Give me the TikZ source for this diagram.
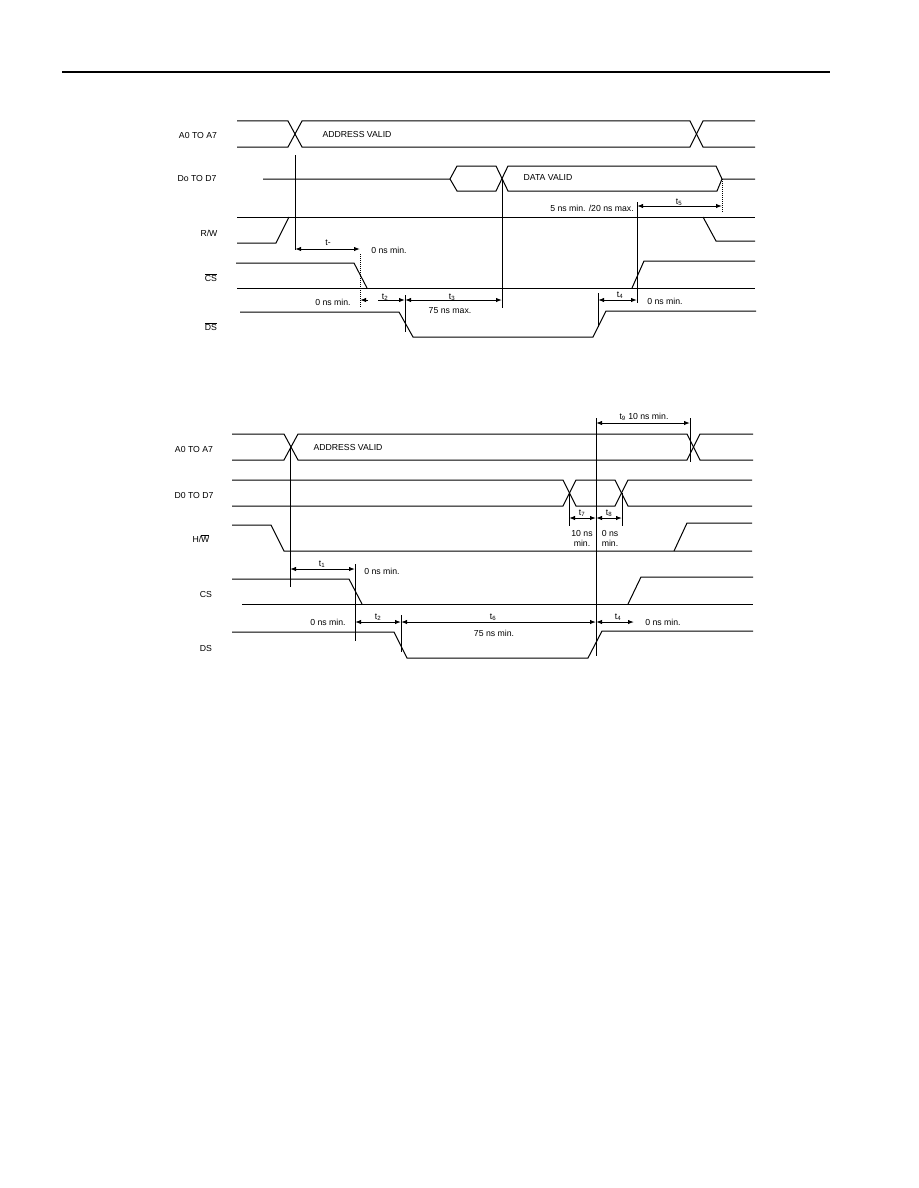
\documentclass[tikz,border=0pt]{standalone}
\usepackage{fontspec}
\setmainfont{Liberation Sans}
\usetikzlibrary{arrows.meta}
\tikzset{
  sig/.style={line width=1pt,line join=miter},
  vline/.style={line width=1pt},
  dim/.style={line width=1pt,{Latex[length=6pt,width=4.4pt]}-{Latex[length=6pt,width=4.4pt]}},
  dimr/.style={line width=1pt,-{Latex[length=6pt,width=4.4pt]}},
  lab/.style={font=\fontsize{8.7}{10}\selectfont,inner sep=0pt},
  small/.style={font=\fontsize{8.7}{9.4}\selectfont,inner sep=0pt,align=center}
}
\newcommand{\ovl}[1]{$\overline{\mbox{#1}}$}
\begin{document}
\begin{tikzpicture}[x=1pt,y=-1pt]
\useasboundingbox (0,0) rectangle (918,1188);
\fill[white] (0,0) rectangle (918,1188);
\draw[line width=2pt] (62,72) -- (830,72);

% ---------- upper diagram: signals
\draw[sig] (237,121) -- (288,121) -- (302,147) -- (690,147) -- (703,121) -- (755,121);
\draw[sig] (237,147) -- (288,147) -- (302,121) -- (690,121) -- (703,147) -- (755,147);
\draw[sig] (263,179) -- (450,179) -- (457,166) -- (496,166) -- (508,191) -- (717,191) -- (722,179) -- (755,179);
\draw[sig] (450,179) -- (457,191) -- (496,191) -- (508,166) -- (716,166) -- (722,179);
\draw[sig] (237,243) -- (276,243) -- (289,217);
\draw[sig] (237,217) -- (755,217);
\draw[sig] (703,217) -- (716,241) -- (755,241);
\draw[sig] (236,263) -- (354,263) -- (367,288);
\draw[sig] (237,288) -- (755,288);
\draw[sig] (632,288) -- (644,261) -- (755,261);
\draw[sig] (240,312) -- (399,312) -- (413,337) -- (593,337) -- (606,311) -- (756,311);

% upper diagram: extension lines
\draw[vline] (295,155) -- (295,250);
\draw[vline,densely dotted] (360,254) -- (360,308);
\draw[vline] (405,295) -- (405,332);
\draw[vline] (502,179) -- (502,308);
\draw[vline] (637,202) -- (637,303);
\draw[vline] (598,293) -- (598,327);
\draw[vline,densely dotted] (722,179) -- (722,212);

% upper diagram: dimensions
\draw[dim] (295,249) -- (360,249);
\draw[dimr] (368,300) -- (360,300);
\draw[dimr] (378,300) -- (405,300);
\draw[dim] (405,300) -- (502,300);
\draw[dim] (598,300) -- (637,300);
\draw[dim] (637,206) -- (722,206);

% upper diagram: labels
\node[lab] (ua) at (198,136) {A0 TO A7};
\node[lab] (ud) at (197,179) {Do TO D7};
\node[lab] (ur) at (209,233) {R/W};
\node[lab] (uc) at (211,278) {\ovl{CS}};
\node[lab] (us) at (211,327) {\ovl{DS}};
\node[lab] (uav) at (357,135) {ADDRESS VALID};
\node[lab] (udv) at (548,178) {DATA VALID};
\node[lab] (ut1) at (328,243) {t-};
\node[small] (un1) at (389,250) {0 ns min.};
\node[small] (un2) at (333,302) {0 ns min.};
\node[lab] (ut2) at (385,297) {t\textsubscript{2}};
\node[lab] (ut3) at (452,297) {t\textsubscript{3}};
\node[small] (un3) at (450,311) {75 ns max.};
\node[lab] (ut4) at (620,295) {t\textsubscript{4}};
\node[small] (un4) at (665,301) {0 ns min.};
\node[lab] (ut5) at (679,202) {t\textsubscript{5}};
\node[small] (un5) at (592,208) {5 ns min. /20 ns max.};

% ---------- lower diagram: signals
\draw[sig] (232,434) -- (284,434) -- (298,460) -- (687,460) -- (700,434) -- (753,434);
\draw[sig] (232,460) -- (284,460) -- (298,434) -- (687,434) -- (700,460) -- (753,460);
\draw[sig] (232,480) -- (563,480) -- (576,506) -- (615,506) -- (628,480) -- (752,480);
\draw[sig] (232,506) -- (563,506) -- (576,480) -- (615,480) -- (628,506) -- (752,506);
\draw[sig] (232,525) -- (271,525) -- (284,551) -- (752,551);
\draw[sig] (674,551) -- (687,523) -- (752,523);
\draw[sig] (232,579) -- (349,579) -- (362,604);
\draw[sig] (242,604) -- (753,604);
\draw[sig] (628,604) -- (641,577) -- (753,577);
\draw[sig] (232,632) -- (394,632) -- (407,658) -- (588,658) -- (602,631) -- (753,631);

% lower diagram: extension lines
\draw[vline] (290,447) -- (290,587);
\draw[vline] (355,564) -- (355,641);
\draw[vline] (401,615) -- (401,652);
\draw[vline] (596,418) -- (596,656);
\draw[vline] (690,418) -- (690,462);
\draw[vline] (569,493) -- (569,526);
\draw[vline] (622,493) -- (622,526);

% lower diagram: dimensions
\draw[dim] (290,569) -- (355,569);
\draw[dim] (355,622) -- (401,622);
\draw[dim] (401,622) -- (596,622);
\draw[dim] (596,622) -- (634,622);
\draw[dim] (596,423) -- (690,423);
\draw[dim] (569,518) -- (596,518);
\draw[dim] (596,518) -- (622,518);

% lower diagram: labels
\node[lab] (la) at (194,450) {A0 TO A7};
\node[lab] (ld) at (194,496) {D0 TO D7};
\node[lab] (lr) at (201,539) {H/\ovl{W}};
\node[lab] (lc) at (206,594) {CS};
\node[lab] (ls) at (206,648) {DS};
\node[lab] (lav) at (348,448) {ADDRESS VALID};
\node[lab] (lt1) at (322,564) {t\textsubscript{1}};
\node[small] (ln1) at (382,571) {0 ns min.};
\node[lab] (lt2) at (378,617) {t\textsubscript{2}};
\node[small] (ln2) at (328,622) {0 ns min.};
\node[lab] (lt6) at (493,617) {t\textsubscript{6}};
\node[small] (ln3) at (494,633) {75 ns min.};
\node[lab] (lt4) at (618,617) {t\textsubscript{4}};
\node[small] (ln4) at (663,622) {0 ns min.};
\node[small] (lt9) at (644,417) {t\textsubscript{9} 10 ns min.};
\node[lab] (lt7) at (582,513) {t\textsubscript{7}};
\node[lab] (lt8) at (609,513) {t\textsubscript{8}};
\node[small] (ln7) at (582,538.5) {10 ns\\min.};
\node[small] (ln8) at (610,538.5) {0 ns\\min.};
\end{tikzpicture}
\end{document}
